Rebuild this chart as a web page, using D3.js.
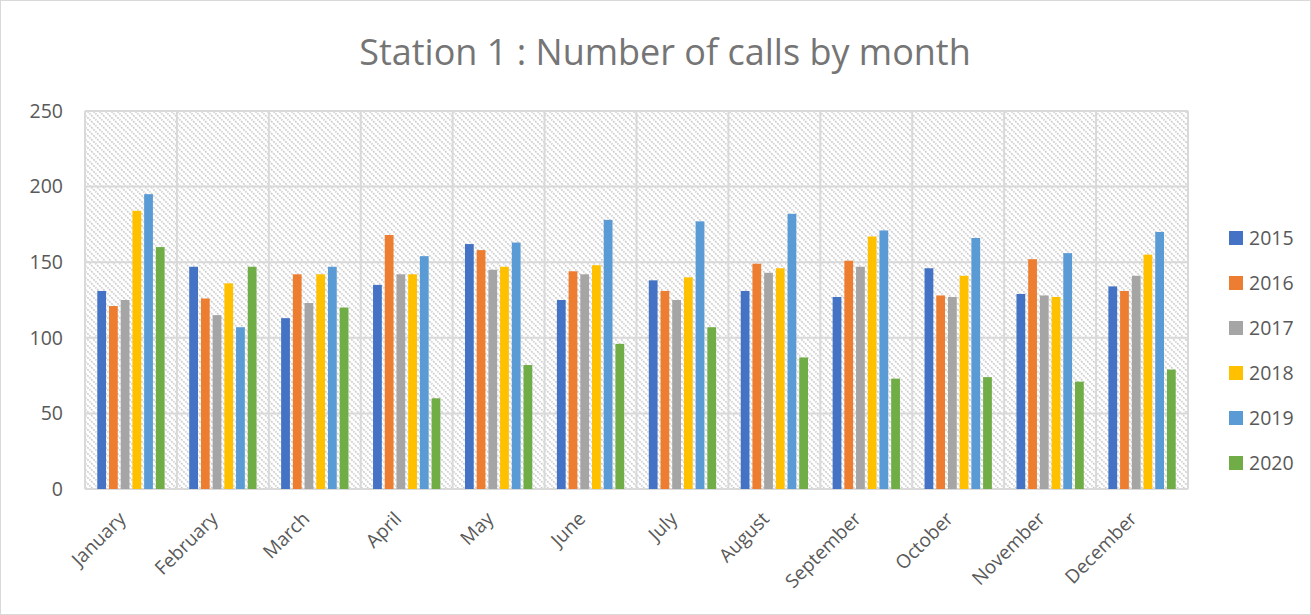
<!DOCTYPE html>
<html>
<head>
<meta charset="utf-8">
<script src="https://cdn.jsdelivr.net/npm/d3@7/dist/d3.min.js"></script>
<style>
  html, body { margin: 0; padding: 0; background: #fff; }
  text { font-family: "Open Sans", "Noto Sans", sans-serif; fill: #595959; }
</style>
</head>
<body>
<script>
// Chart data.
var months = ["January", "February", "March", "April", "May", "June",
              "July", "August", "September", "October", "November", "December"];
var years = ["2015", "2016", "2017", "2018", "2019", "2020"];
var calls2015 = [131, 147, 113, 135, 162, 125, 138, 131, 127, 146, 129, 134];
var calls2016 = [121, 126, 142, 168, 158, 144, 131, 149, 151, 128, 152, 131];
var calls2017 = [125, 115, 123, 142, 145, 142, 125, 143, 147, 127, 128, 141];
var calls2018 = [184, 136, 142, 142, 147, 148, 140, 146, 167, 141, 127, 155];
var calls2019 = [195, 107, 147, 154, 163, 178, 177, 182, 171, 166, 156, 170];
var calls2020 = [160, 147, 120, 60, 82, 96, 107, 87, 73, 74, 71, 79];
var yTicks = [0, 50, 100, 150, 200, 250];
var colors = ["#4472c4", "#ed7d31", "#a5a5a5", "#ffc000", "#5b9bd5", "#70ad47"];

var series = [calls2015, calls2016, calls2017, calls2018, calls2019, calls2020];

var W = 1311, H = 615;
var plot = {left: 85, right: 1188, top: 111, bottom: 489};

var svg = d3.select("body").append("svg")
        .attr("width", W)
        .attr("height", H);

// Hatch pattern for the plot area.
var defs = svg.append("defs");
var pat = defs.append("pattern")
        .attr("id", "hatch")
        .attr("patternUnits", "userSpaceOnUse")
        .attr("width", 6)
        .attr("height", 6);
pat.append("rect").attr("width", 6).attr("height", 6).attr("fill", "#fff");
pat.append("path")
        .attr("d", "M-1,-1 L7,7 M-1,5 L1,7 M5,-1 L7,1")
        .attr("stroke", "#cdcdcd")
        .attr("stroke-width", 1.6)
        .attr("stroke-dasharray", "2,1");

// Outer chart border.
svg.append("rect")
        .attr("x", 0.5).attr("y", 0.5)
        .attr("width", W - 1).attr("height", H - 1)
        .attr("fill", "none")
        .attr("stroke", "#d9d9d9");

// Scales.
var x0 = d3.scaleBand().domain(months).range([plot.left, plot.right]).paddingInner(0).paddingOuter(0);
var x1 = d3.scaleBand().domain(years).range([0, x0.bandwidth()]).paddingInner(0.25).paddingOuter(1.05);
var y = d3.scaleLinear().domain([0, 250]).range([plot.bottom, plot.top]);

svg.append("rect")
        .attr("x", plot.left).attr("y", plot.top)
        .attr("width", plot.right - plot.left)
        .attr("height", plot.bottom - plot.top)
        .attr("fill", "url(#hatch)");

// Gridlines.
svg.append("g").selectAll("line")
        .data(yTicks)
        .join("line")
        .attr("x1", plot.left).attr("x2", plot.right)
        .attr("y1", function(d) { return y(d); })
        .attr("y2", function(d) { return y(d); })
        .attr("stroke", "#d9d9d9")
        .attr("stroke-width", 2);

svg.append("g").selectAll("line")
        .data(months.concat(["end"]))
        .join("line")
        .attr("x1", function(d, i) { return i < months.length ? x0(d) : plot.right; })
        .attr("x2", function(d, i) { return i < months.length ? x0(d) : plot.right; })
        .attr("y1", plot.top).attr("y2", plot.bottom)
        .attr("stroke", "#d9d9d9")
        .attr("stroke-width", 2);

// Bars.
var groups = svg.append("g").selectAll("g")
        .data(months)
        .join("g")
        .attr("transform", function(d) { return "translate(" + x0(d) + ",0)"; });

groups.selectAll("rect")
        .data(function(m, mi) {
            return years.map(function(yr, si) { return {year: yr, value: series[si][mi], si: si}; });
        })
        .join("rect")
        .attr("x", function(d) { return x1(d.year); })
        .attr("width", x1.bandwidth())
        .attr("y", function(d) { return y(d.value); })
        .attr("height", function(d) { return y(0) - y(d.value); })
        .attr("fill", function(d) { return colors[d.si]; });

// Y axis labels.
svg.append("g").selectAll("text")
        .data(yTicks)
        .join("text")
        .attr("x", 63)
        .attr("y", function(d) { return y(d); })
        .attr("dy", "0.35em")
        .attr("text-anchor", "end")
        .style("font-size", "19.5px")
        .text(function(d) { return d; });

// X axis labels.
svg.append("g").selectAll("text")
        .data(months)
        .join("text")
        .attr("text-anchor", "end")
        .attr("transform", function(d) {
            return "translate(" + (x0(d) + x0.bandwidth() / 2 - 4) + "," + 520 + ") rotate(-45)";
        })
        .style("font-size", "19px")
        .text(function(d) { return d; });

// Title.
svg.append("text")
        .attr("x", 665)
        .attr("y", 65)
        .attr("text-anchor", "middle")
        .style("font-size", "36px")
        .style("fill", "#757575")
        .text("Station 1 : Number of calls by month");

// Legend.
var legend = svg.append("g").selectAll("g")
        .data(years)
        .join("g")
        .attr("transform", function(d, i) { return "translate(1229," + (238 + i * 45) + ")"; });
legend.append("rect")
        .attr("x", 0).attr("y", -7)
        .attr("width", 14).attr("height", 14)
        .attr("fill", function(d, i) { return colors[i]; });
legend.append("text")
        .attr("x", 20)
        .attr("dy", "0.35em")
        .style("font-size", "19.5px")
        .text(function(d) { return d; });
</script>
</body>
</html>
